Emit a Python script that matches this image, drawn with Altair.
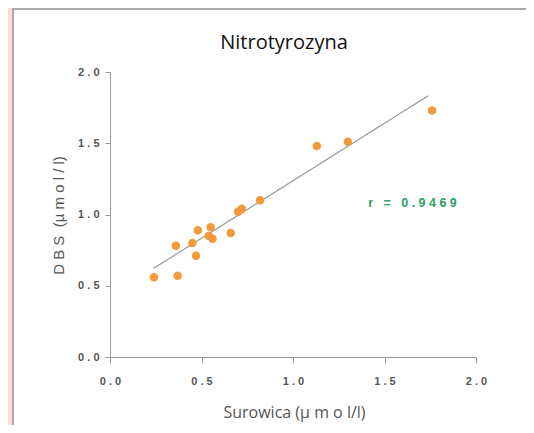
import altair as alt
import pandas as pd

# Scatter data
surowica = [0.24, 0.37, 0.36, 0.45, 0.47, 0.48, 0.55, 0.54, 0.56, 0.66, 0.70, 0.72, 0.82, 1.13, 1.30, 1.76]
dbs = [0.56, 0.57, 0.78, 0.80, 0.71, 0.89, 0.91, 0.85, 0.83, 0.87, 1.02, 1.04, 1.10, 1.48, 1.51, 1.73]

# Fitted line end points
fit_x = [0.237, 1.739]
fit_y = [0.621, 1.834]

r_label = ["r = 0.9469"]
r_x = [1.653]
r_y = [1.083]

ticks = [0.0, 0.5, 1.0, 1.5, 2.0]

NB = "\u00a0"

pts = pd.DataFrame({"x": surowica, "y": dbs})
fit = pd.DataFrame({"x": fit_x, "y": fit_y})
rdf = pd.DataFrame({"x": r_x, "y": r_y, "label": r_label})
one = pd.DataFrame({"k": [0]})

spaced = "join(split(replace(datum.label, / /g, '" + NB + "'), ''), '" + NB + "')"

xscale = alt.Scale(domain=[0, 2], nice=False, zero=False)
yscale = alt.Scale(domain=[0, 2], nice=False, zero=False)

axis_common = dict(
    values=ticks, format=".1f", grid=False, labelExpr=spaced, zindex=1,
    labelFlush=False, labelOverlap=False,
    labelFont="Liberation Sans", labelFontWeight="bold", labelFontSize=11,
    labelColor="#555555", domainColor="#9a9a9a", tickColor="#9a9a9a",
    domainWidth=1, tickWidth=1, titleColor="#555555",
)

x_title = "Surowica (µ" + NB + "m" + NB + "o" + NB + "l/l)"
y_title = NB.join("DBS") + NB + NB + "(" + NB.join("µmol/l") + ")"

panel = alt.Chart(one).mark_rect(fill="white", stroke="#a8a8a8", strokeWidth=2).encode(
    x=alt.value(-97), x2=alt.value(440), y=alt.value(-63), y2=alt.value(380)
)

line = alt.Chart(fit).mark_line(color="#9a9a9a", strokeWidth=1.2).encode(
    x=alt.X("x:Q", scale=xscale,
            axis=alt.Axis(title=x_title, tickSize=6, labelPadding=12,
                          titleFont="Open Sans", titleFontSize=16, titleFontWeight="normal",
                          titleX=184, titleY=55, titleBaseline="middle", **axis_common)),
    y=alt.Y("y:Q", scale=yscale,
            axis=alt.Axis(title=y_title, tickSize=5, labelPadding=6,
                          titleFont="Liberation Sans", titleFontSize=15, titleFontWeight="normal",
                          titleX=-52, titleY=143, titleBaseline="middle", titleAlign="center",
                          titleAngle=270, **axis_common)),
)

points = alt.Chart(pts).mark_circle(size=72, color="#F39A3A", opacity=1).encode(
    x=alt.X("x:Q", scale=xscale), y=alt.Y("y:Q", scale=yscale)
)

rtext = alt.Chart(rdf).transform_calculate(shown=spaced).mark_text(
    font="Liberation Sans", fontWeight="bold", fontSize=12.5, color="#2E9E62",
    align="center", baseline="middle"
).encode(x=alt.X("x:Q", scale=xscale), y=alt.Y("y:Q", scale=yscale), text="shown:N")

title = alt.Chart(one).transform_calculate(t="'Nitrotyrozyna'").mark_text(
    font="Open Sans", fontSize=20, color="#111111", align="center", baseline="alphabetic"
).encode(x=alt.value(174), y=alt.value(-23), text="t:N")

chart = alt.layer(panel, line, points, rtext, title).properties(
    width=366, height=285,
    autosize=alt.AutoSizeParams(type="none"),
    padding={"left": 102, "top": 64, "right": 50, "bottom": 68},
).configure(background="#FADCD2").configure_view(stroke=None)

chart.save("out.html", embed_options={"renderer": "svg", "actions": False})
